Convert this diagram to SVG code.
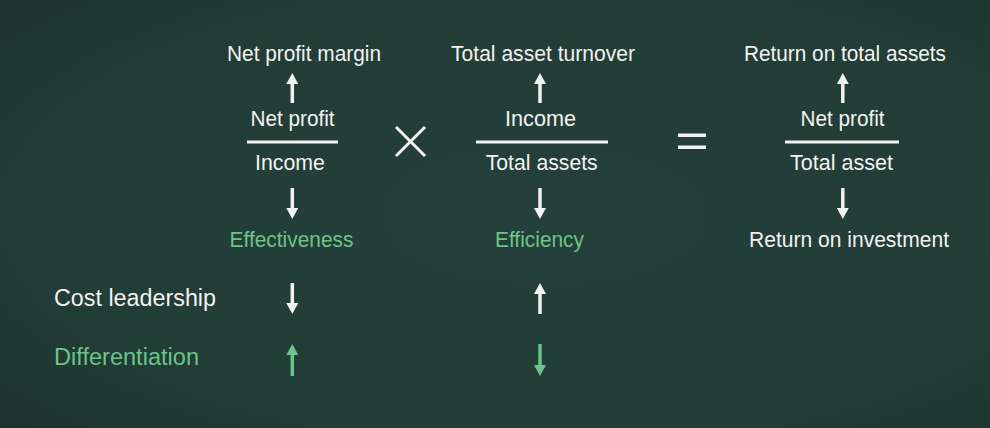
<svg xmlns="http://www.w3.org/2000/svg" width="990" height="428" viewBox="0 0 990 428">
<defs>
<radialGradient id="bg" cx="0.55" cy="0.5" r="0.75">
<stop offset="0" stop-color="#25403a"/>
<stop offset="0.7" stop-color="#223c36"/>
<stop offset="1" stop-color="#1c322d"/>
</radialGradient>
<marker id="hw" viewBox="0 0 11 12" refX="0" refY="6" markerWidth="11" markerHeight="12" markerUnits="userSpaceOnUse" orient="auto"><path d="M0,0 L11,6 L0,12 z" fill="#f2f2f0"/></marker>
<marker id="hg" viewBox="0 0 11 12" refX="0" refY="6" markerWidth="11" markerHeight="12" markerUnits="userSpaceOnUse" orient="auto"><path d="M0,0 L11,6 L0,12 z" fill="#6cc489"/></marker>
<style>
text{font-family:"Liberation Sans",Arial,sans-serif;font-size:22px;fill:#f2f2f0;text-anchor:middle}
.g{fill:#6cc489}
.l{text-anchor:start;font-size:23px}
.aw{stroke:#f2f2f0;stroke-width:3.5;marker-end:url(#hw)}
.ag{stroke:#6cc489;stroke-width:3.5;marker-end:url(#hg)}
.bar{stroke:#f2f2f0;stroke-width:3}
</style>
</defs>
<rect width="990" height="428" fill="url(#bg)"/>
<g id="col1">
<text x="304" y="61" textLength="154" lengthAdjust="spacingAndGlyphs">Net profit margin</text>
<text x="292.6" y="126" textLength="84" lengthAdjust="spacingAndGlyphs">Net profit</text>
<line class="bar" x1="247" y1="142" x2="338" y2="142"/>
<text x="290" y="170" textLength="70" lengthAdjust="spacingAndGlyphs">Income</text>
<text class="g" x="291.5" y="247" textLength="124" lengthAdjust="spacingAndGlyphs">Effectiveness</text>
</g>
<g id="times"><path d="M396,127 L425,156 M425,127 L396,156" stroke="#f2f2f0" stroke-width="3"/></g>
<g id="col2">
<text x="543" y="61" textLength="184" lengthAdjust="spacingAndGlyphs">Total asset turnover</text>
<text x="540.5" y="126" textLength="71" lengthAdjust="spacingAndGlyphs">Income</text>
<line class="bar" x1="476" y1="142" x2="608" y2="142"/>
<text x="541.7" y="170" textLength="112" lengthAdjust="spacingAndGlyphs">Total assets</text>
<text class="g" x="539.5" y="247" textLength="89" lengthAdjust="spacingAndGlyphs">Efficiency</text>
</g>
<g id="equals"><rect x="678" y="133.5" width="28" height="3.5" fill="#f2f2f0"/><rect x="678" y="145.5" width="28" height="3.5" fill="#f2f2f0"/></g>
<g id="col3">
<text x="845" y="61" textLength="202" lengthAdjust="spacingAndGlyphs">Return on total assets</text>
<text x="842.5" y="126" textLength="84" lengthAdjust="spacingAndGlyphs">Net profit</text>
<line class="bar" x1="785" y1="142" x2="899" y2="142"/>
<text x="841.5" y="170" textLength="103" lengthAdjust="spacingAndGlyphs">Total asset</text>
<text x="849" y="247" textLength="200" lengthAdjust="spacingAndGlyphs">Return on investment</text>
</g>
<g id="cost"><text class="l" x="54" y="306" textLength="162" lengthAdjust="spacingAndGlyphs">Cost leadership</text></g>
<g id="diff"><text class="l g" x="54" y="365" textLength="145" lengthAdjust="spacingAndGlyphs">Differentiation</text></g>
<g id="connectors">
<line class="aw" x1="292.3" y1="103" x2="292.3" y2="84"/>
<line class="aw" x1="292.3" y1="188" x2="292.3" y2="208"/>
<line class="aw" x1="540" y1="103" x2="540" y2="84"/>
<line class="aw" x1="540" y1="188" x2="540" y2="208"/>
<line class="aw" x1="842.8" y1="103" x2="842.8" y2="84"/>
<line class="aw" x1="842.8" y1="188" x2="842.8" y2="208"/>
<line class="aw" x1="292.3" y1="283" x2="292.3" y2="303"/>
<line class="aw" x1="540" y1="314" x2="540" y2="294"/>
<line class="ag" x1="292.3" y1="376" x2="292.3" y2="355"/>
<line class="ag" x1="540" y1="344" x2="540" y2="365"/>
</g>
</svg>
